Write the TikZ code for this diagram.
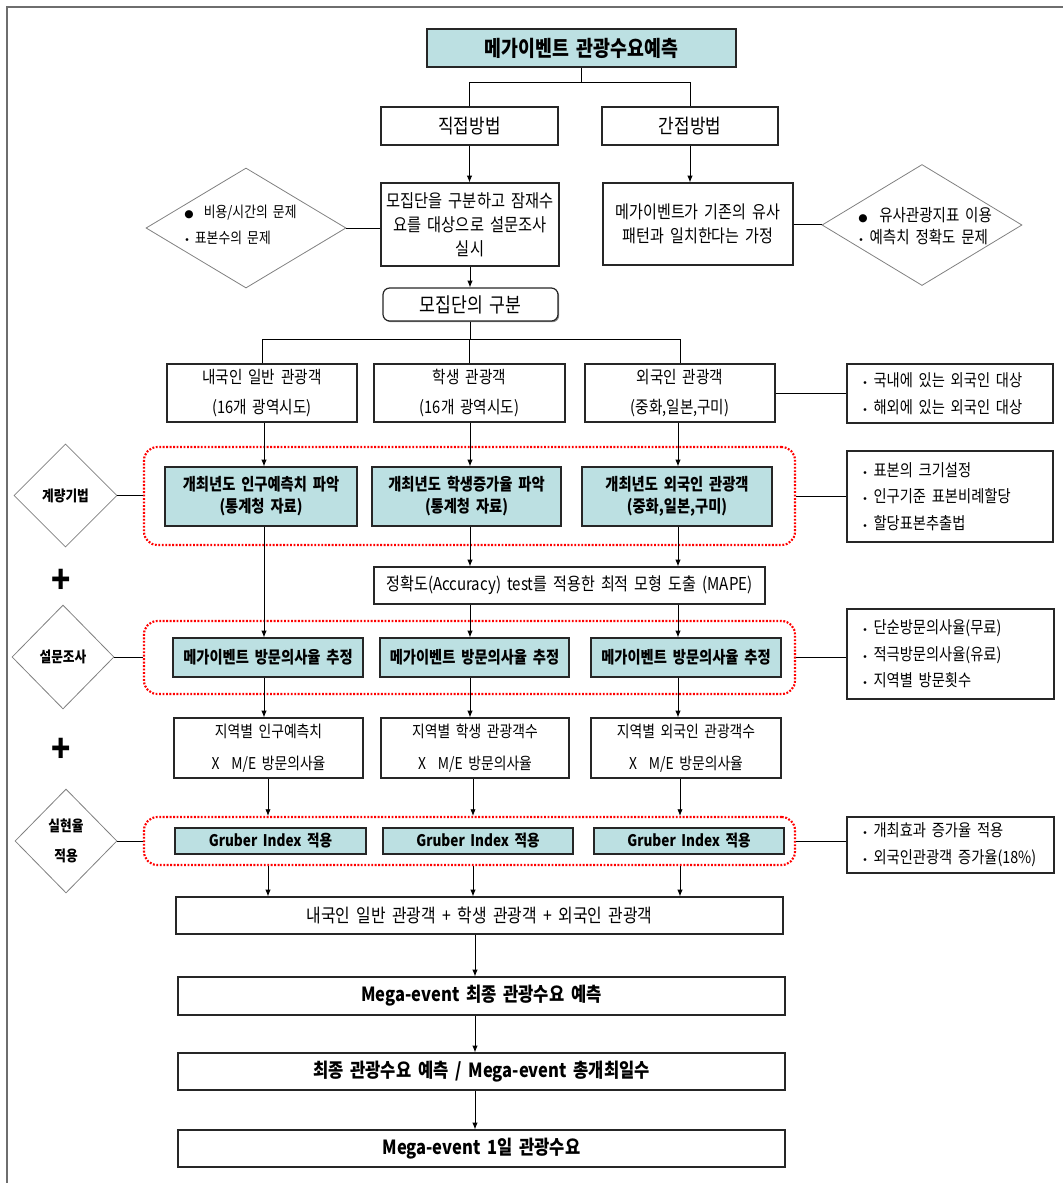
\documentclass[tikz,border=0pt]{standalone}
\usepackage{fontspec}
\setmainfont{Noto Sans CJK KR}[FakeStretch=0.85,WordSpace=1.8]
\newfontfamily\dv{DejaVu Sans}
\usetikzlibrary{shapes.geometric,arrows.meta,shadows}
\definecolor{teal0}{RGB}{188,224,226}
\definecolor{framegray}{RGB}{110,110,110}
\newcommand\fsz[2]{\fontsize{#1}{#2}\selectfont}
\newcommand\bul{{\dv\fontsize{7}{7}\selectfont •}}
\newcommand\bigbul{{\dv\fontsize{8}{8}\selectfont ●}}
\begin{document}
\begin{tikzpicture}[x=0.75pt,y=-0.75pt,
  sz/.style 2 args={minimum width=#1*0.75pt,minimum height=#2*0.75pt},
  box/.style={draw=black!85,line width=0.9pt,fill=white,inner sep=0pt,align=center,
    drop shadow={shadow xshift=0.9pt,shadow yshift=-0.9pt,fill=black!45,opacity=1}},
  tbox/.style={box,fill=teal0},
  dia/.style={diamond,draw=black!50,line width=0.6pt,inner sep=0pt},
  redbox/.style={draw=red,line width=1.6pt,dash pattern=on 1.4pt off 1.2pt,rounded corners=10pt,inner sep=0pt},
  ln/.style={draw=black,line width=0.7pt},
  arr/.style={ln,-{Latex[length=5pt,width=4pt]}},
  rtext/.style={anchor=west,align=left,inner sep=0pt,font=\fsz{12.6}{20}},
  dtext/.style={align=center,inner sep=0pt,font=\fsz{11.2}{22}\bfseries},
  plus/.style={inner sep=0pt,font=\fsz{28}{28}\bfseries}]
\useasboundingbox (0,0) rectangle (1063,1183);

% outer frame
\draw[framegray,line width=0.8pt] (7,1183) -- (7,7) -- (1063,7);

% column positions of the vertical connectors
\coordinate (c1) at (264,0);
\coordinate (c2) at (470,0);
\coordinate (c3) at (678,0);
\coordinate (d1) at (268,0);
\coordinate (d2) at (473,0);
\coordinate (d3) at (680,0);
\coordinate (fcol) at (475,0);

% top: the two methods
\node[tbox,sz={309}{38},font=\fsz{16.2}{18}\bfseries] (title) at (581.5,48) {메가이벤트 관광수요예측};
\node[box,sz={177}{38},font=\fsz{14.9}{16}] (direct) at (469.5,126) {직접방법};
\node[box,sz={176}{38},font=\fsz{14.9}{16}] (indirect) at (690,126) {간접방법};
\coordinate (s1) at (578,82);
\draw[ln] (title.south) -- (title.south |- s1);
\draw[ln] (direct.north) |- (indirect.north |- s1) -- (indirect.north);

\node[box,sz={178}{83},font=\fsz{13.5}{18}] (survey) at (470,224.5) {모집단을 구분하고 잠재수\\요를 대상으로 설문조사\\실시};
\node[box,sz={190}{82},font=\fsz{13.3}{17.5}] (assume) at (698,224) {메가이벤트가 기존의 유사\\패턴과 일치한다는 가정};
\draw[arr] (direct.south) -- (direct.south |- survey.north);
\draw[arr] (indirect.south) -- (indirect.south |- assume.north);

\node[dia,sz={200}{120}] (ldia) at (246,228) {};
\node[rtext,font=\fsz{11.3}{19}] (ldiat) at (184,225) {\bigbul\ \ 비용/시간의 문제\\\bul\ 표본수의 문제};
\draw[ln] (ldia.east) -- (ldia.east -| survey.west);
\node[dia,sz={200}{121}] (rdia) at (922,225) {};
\node[rtext,font=\fsz{12.8}{17}] (rdiat) at (858,226) {\bigbul\ \ 유사관광지표 이용\\\bul\ 예측치 정확도 문제};
\draw[ln] (assume.east) -- (assume.east -| rdia.west);

% population split
\node[box,rounded corners=5pt,sz={175}{33},font=\fsz{15.2}{16}] (pop) at (470.5,304.5) {모집단의 구분};
\draw[arr] (survey.south) -- (survey.south |- pop.north);

\node[box,sz={190}{58},font=\fsz{12.9}{22.5}] (r1a) at (262,393) {내국인 일반 관광객\\(16개 광역시도)};
\node[box,sz={191}{58},font=\fsz{12.9}{22.5}] (r1b) at (469.5,393) {학생 관광객\\(16개 광역시도)};
\node[box,sz={190}{58},font=\fsz{12.9}{22.5}] (r1c) at (680,393) {외국인 관광객\\(중화,일본,구미)};
\coordinate (s2) at (470,339);
\draw[ln] (pop.south) -- (pop.south |- s2);
\draw[ln] (r1a.north) |- (r1c.north |- s2) -- (r1c.north);
\draw[ln] (r1b.north) -- (r1b.north |- s2);

\node[box,sz={206}{59}] (rb1) at (950,393.5) {};
\node[rtext] (rb1t) at (862,393.5) {\bul\ 국내에 있는 외국인 대상\\\bul\ 해외에 있는 외국인 대상};
\draw[ln] (r1c.east) -- (r1c.east -| rb1.west);

% quantitative method
\node[redbox,sz={651}{98}] (red1) at (469.5,496) {};
\node[tbox,sz={192}{59},font=\fsz{12.6}{16.5}\bfseries] (r2a) at (261,496.5) {개최년도 인구예측치 파악\\(통계청 자료)};
\node[tbox,sz={189}{59},font=\fsz{12.6}{16.5}\bfseries] (r2b) at (466.5,496.5) {개최년도 학생증가율 파악\\(통계청 자료)};
\node[tbox,sz={190}{59},font=\fsz{12.6}{16.5}\bfseries] (r2c) at (677,496.5) {개최년도 외국인 관광객\\(중화,일본,구미)};
\draw[arr] (r1a.south -| c1) -- (r2a.north -| c1);
\draw[arr] (r1b.south -| c2) -- (r2b.north -| c2);
\draw[arr] (r1c.south -| c3) -- (r2c.north -| c3);

\node[dia,sz={103}{103}] (dia1) at (65.5,495.5) {};
\node[dtext] (dia1t) at (dia1) {계량기법};
\draw[ln] (dia1.east) -- (dia1.east -| red1.west);

\node[box,sz={206}{91}] (rb2) at (950,496.5) {};
\node[rtext] (rb2t) at (862,496.5) {\bul\ 표본의 크기설정\\\bul\ 인구기준 표본비례할당\\\bul\ 할당표본추출법};
\draw[ln] (red1.east) -- (red1.east -| rb2.west);

\node[plus] (plus1) at (61,581) {+};

\node[box,sz={391}{37},font=\fsz{13.3}{14}] (acc) at (569.5,585.5) {정확도(Accuracy) test를 적용한 최적 모형 도출 (MAPE)};
\draw[arr] (r2b.south -| c2) -- (acc.north -| c2);
\draw[arr] (r2c.south -| c3) -- (acc.north -| c3);

% survey
\node[redbox,sz={651}{73}] (red2) at (469.5,657.5) {};
\node[tbox,sz={190}{39},font=\fsz{12.6}{14}\bfseries] (r3a) at (268,657.5) {메가이벤트 방문의사율 추정};
\node[tbox,sz={189}{39},font=\fsz{12.6}{14}\bfseries] (r3b) at (474.5,657.5) {메가이벤트 방문의사율 추정};
\node[tbox,sz={190}{39},font=\fsz{12.6}{14}\bfseries] (r3c) at (686,657.5) {메가이벤트 방문의사율 추정};
\draw[arr] (r2a.south -| c1) -- (r3a.north -| c1);
\draw[arr] (acc.south -| c2) -- (r3b.north -| c2);
\draw[arr] (acc.south -| c3) -- (r3c.north -| c3);

\node[dia,sz={102}{104}] (dia2) at (63,657) {};
\node[dtext] (dia2t) at (dia2) {설문조사};
\draw[ln] (dia2.east) -- (dia2.east -| red2.west);

\node[box,sz={207}{90}] (rb3) at (950.5,654) {};
\node[rtext] (rb3t) at (862,654) {\bul\ 단순방문의사율(무료)\\\bul\ 적극방문의사율(유료)\\\bul\ 지역별 방문횟수};
\draw[ln] (red2.east) -- (red2.east -| rb3.west);

\node[plus] (plus2) at (61,750) {+};

\node[box,sz={189}{60},font=\fsz{12.2}{24}] (r4a) at (268.5,748) {지역별 인구예측치\\X\hspace{9pt}M/E 방문의사율};
\node[box,sz={188}{60},font=\fsz{12.2}{24}] (r4b) at (475,748) {지역별 학생 관광객수\\X\hspace{9pt}M/E 방문의사율};
\node[box,sz={190}{60},font=\fsz{12.2}{24}] (r4c) at (686,748) {지역별 외국인 관광객수\\X\hspace{9pt}M/E 방문의사율};
\draw[arr] (r3a.south -| c1) -- (r4a.north -| c1);
\draw[arr] (r3b.south -| c2) -- (r4b.north -| c2);
\draw[arr] (r3c.south -| c3) -- (r4c.north -| c3);

% realisation rate
\node[redbox,sz={651}{48}] (red3) at (469.5,841) {};
\node[tbox,sz={191}{26},font=\fsz{12}{14}\bfseries] (r5a) at (270.5,841) {Gruber Index 적용};
\node[tbox,sz={190}{26},font=\fsz{12}{14}\bfseries] (r5b) at (478,841) {Gruber Index 적용};
\node[tbox,sz={190}{26},font=\fsz{12}{14}\bfseries] (r5c) at (689,841) {Gruber Index 적용};
\draw[arr] (r4a.south -| d1) -- (red3.north -| d1);
\draw[arr] (r4b.south -| d2) -- (red3.north -| d2);
\draw[arr] (r4c.south -| d3) -- (red3.north -| d3);

\node[dia,sz={102}{104}] (dia3) at (66,841) {};
\node[dtext] (dia3t) at (dia3) {실현율\\적용};
\draw[ln] (dia3.east) -- (dia3.east -| red3.west);

\node[box,sz={207}{56}] (rb4) at (950.5,845) {};
\node[rtext] (rb4t) at (862,845) {\bul\ 개최효과 증가율 적용\\\bul\ 외국인관광객 증가율(18\%)};
\draw[ln] (red3.east) -- (red3.east -| rb4.west);

% totals
\node[box,sz={607}{37},font=\fsz{14}{14}] (sum) at (479.5,915.5) {내국인 일반 관광객 + 학생 관광객 + 외국인 관광객};
\draw[arr] (red3.south -| d1) -- (sum.north -| d1);
\draw[arr] (red3.south -| d2) -- (sum.north -| d2);
\draw[arr] (red3.south -| d3) -- (sum.north -| d3);

\node[box,sz={607}{38},font=\fsz{14.6}{14}\bfseries] (fin1) at (481.5,996) {Mega-event 최종 관광수요 예측};
\node[box,sz={607}{37},font=\fsz{14.6}{14}\bfseries] (fin2) at (481.5,1071.5) {최종 관광수요 예측 / Mega-event 총개최일수};
\node[box,sz={607}{37},font=\fsz{14.6}{14}\bfseries] (fin3) at (481.5,1148.5) {Mega-event 1일 관광수요};
\draw[arr] (sum.south -| fcol) -- (fin1.north -| fcol);
\draw[arr] (fin1.south -| fcol) -- (fin2.north -| fcol);
\draw[arr] (fin2.south -| fcol) -- (fin3.north -| fcol);
\end{tikzpicture}
\end{document}
